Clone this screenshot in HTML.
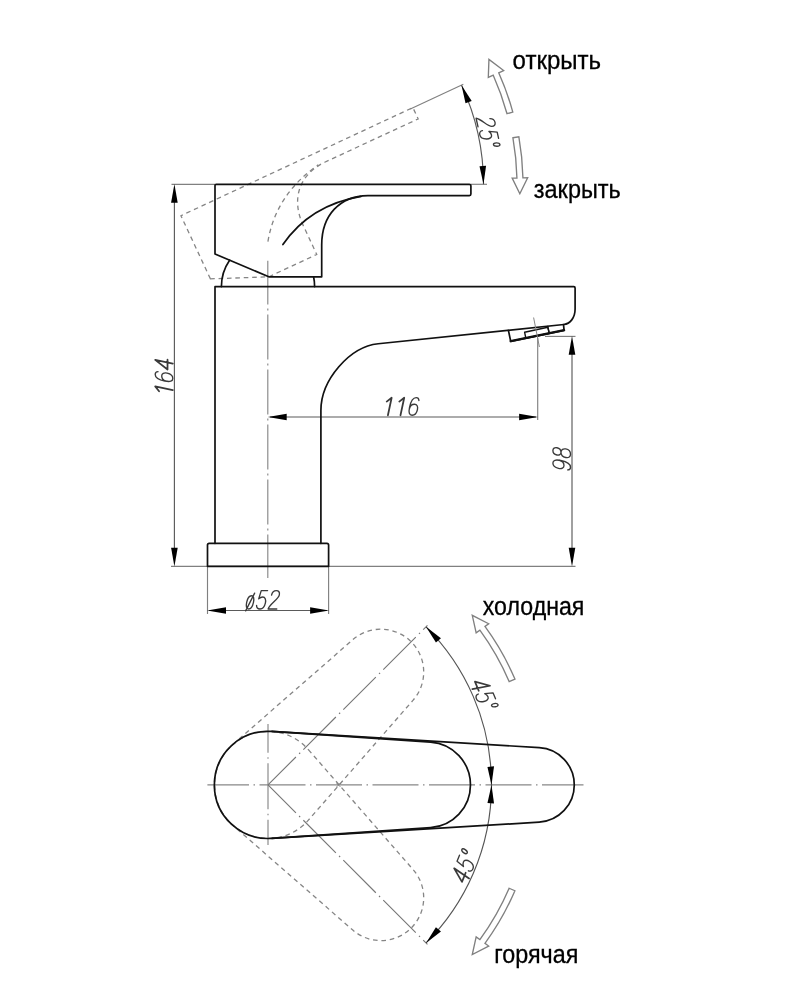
<!DOCTYPE html>
<html lang="ru"><head><meta charset="utf-8"><title>Схема</title>
<style>
html,body{margin:0;padding:0;background:#fff;}
body{width:809px;height:1000px;overflow:hidden;font-family:"Liberation Sans",sans-serif;}
svg{display:block;filter:grayscale(1);}
</style></head><body>
<svg width="809" height="1000" viewBox="0 0 809 1000">
<rect width="809" height="1000" fill="#fff"/>
<g fill="none" stroke="#808080" stroke-width="1.15">
<path d="M267.8,260.8 L267.8,578" stroke-dasharray="45 4 2 4" stroke-dashoffset="1.3" stroke="#888"/>
<path d="M171.5,184.3 L215,184.3"/>
<path d="M174.4,190 L174.4,560" stroke="#5a5a5a"/>
<path d="M171,566.3 L575.5,566.3"/>
<path d="M545,336.4 L575.5,336.4"/>
<path d="M572,342 L572,560" stroke="#5a5a5a"/>
<path d="M537.7,338 L537.7,420"/>
<path d="M270,417 L536,417" stroke="#5a5a5a"/>
<path d="M207.5,566.3 L207.5,614"/>
<path d="M328.6,566.3 L328.6,614"/>
<path d="M209,610.5 L327,610.5" stroke="#5a5a5a"/>
<path d="M470.9,184.3 L487,184.3"/>
<path d="M410.32,109.07 L463.34,84.35"/>
<path d="M461.53,85.2 A234.5,234.5 0 0 1 483.5,184.3" stroke="#5a5a5a"/>
</g>
<g fill="none" stroke="#858585" stroke-width="1.3" stroke-dasharray="4.6 3.8" transform="rotate(-25 268.8 276.8)">
<path d="M215,254 L215,184.3 L470.9,184.3 L470.9,196.8 L367.9,196.6 C340,197 321.7,215 321.7,245 L321.7,276.8 L268.8,276.8 Z"/>
<path d="M282.9,244.5 Q310,205 361,196.3"/>
</g>
<g fill="none" stroke="#111" stroke-width="1.7" stroke-linejoin="round" stroke-linecap="round">
<path d="M221.4,286.6 A46.6,46.6 0 0 1 229.6,260.2"/>
<path d="M313.6,276.8 A46.6,46.6 0 0 1 314.6,286.6"/>
<path d="M215,254 L215,185.5 Q215,184.3 216.2,184.3 L469.4,184.3 Q470.9,184.3 470.9,185.8 L470.9,194.1 Q470.9,195.6 469.4,195.6 L367.9,195.6 C340,196 321.7,215 321.7,245 L321.7,276.8 L268.8,276.8 Z"/>
<path d="M282.9,244.5 Q310,205 361,196.3"/>
<path d="M215,543.3 L215,286.7 L573.8,286.7 Q575.1,286.7 575.1,288 L575.1,309 C575.1,318 570,323.8 563.8,324.5 L378.2,343.75 C349.6,346.7 320.9,379.9 320.9,410.4 L320.9,543.3"/>
<path d="M207.5,566.3 L207.5,545 Q207.5,543.3 209.2,543.3 L326.9,543.3 Q328.6,543.3 328.6,545 L328.6,566.3 Z"/>
</g>
<g fill="none" stroke="#111" stroke-width="1.6" stroke-linejoin="round" stroke-linecap="round">
<path d="M508.4,330.4 L510.7,341.3 L564.1,330.3 L563.5,324.6" stroke-width="1.7"/>
<path d="M510.7,341.2 L564.1,330.2" stroke-width="2.3"/>
<path d="M524.6,332.2 L547.8,327.3 L549.3,333.4 L525.8,338.1 Z" stroke-width="1.4"/>
<path d="M547.7,326.4 L549.3,333.4" stroke-width="1.4"/>
</g>
<path d="M533.6,317.5 L539.4,347" stroke="#888" stroke-width="1" fill="none"/>
<path d="M174.4,183.9 L177.7,202.8 L171.1,202.8 Z" fill="#000"/>
<path d="M174.4,566.6 L171.1,547.7 L177.7,547.7 Z" fill="#000"/>
<path d="M572,335.9 L575.3,354.8 L568.7,354.8 Z" fill="#000"/>
<path d="M572,566.6 L568.7,547.7 L575.3,547.7 Z" fill="#000"/>
<path d="M267.8,417 L286.7,413.7 L286.7,420.3 Z" fill="#000"/>
<path d="M538,417 L519.1,420.3 L519.1,413.7 Z" fill="#000"/>
<path d="M207.1,610.5 L226,607.2 L226,613.8 Z" fill="#000"/>
<path d="M329,610.5 L310.1,613.8 L310.1,607.2 Z" fill="#000"/>
<path d="M461.53,85.2 L471.7,100.91 L465.52,103.22 Z" fill="#000"/>
<path d="M483.5,184.3 L486.08,165.76 L479.5,166.28 Z" fill="#000"/>
<path d="M507.02,113.71 L512.81,112.13 A273.5,273.5 0 0 0 498.72,72.76 L503.65,70.56 L488.94,59.4 L488.31,77.41 L493.24,75.21 A267.5,267.5 0 0 1 507.02,113.71 Z" fill="#fff" stroke="#808080" stroke-width="1.35" stroke-linejoin="miter"/>
<path d="M512.93,137.76 L518.84,136.72 A274,274 0 0 1 522.93,177.89 L527.67,177.78 L519.83,193.76 L512.18,178.14 L516.93,178.03 A268,268 0 0 0 512.93,137.76 Z" fill="#fff" stroke="#808080" stroke-width="1.35" stroke-linejoin="miter"/>
<g transform="translate(172.8,376.9) rotate(-90)">
<path transform="translate(-18.88,0) matrix(15.84,0,3.74,-17.6,0,0)" d="M0.10,0.78 L0.36,1 L0.36,0" fill="none" stroke="#3a3a3a" stroke-width="1.76" vector-effect="non-scaling-stroke" stroke-linecap="round" stroke-linejoin="round"/>
<path transform="translate(-6.29,0) matrix(15.84,0,3.74,-17.6,0,0)" d="M0.53,0.84 C0.50,0.95 0.42,1 0.32,1 C0.12,1 0.03,0.75 0.03,0.45 C0.03,0.15 0.12,0 0.30,0 C0.46,0 0.56,0.13 0.56,0.32 C0.56,0.50 0.46,0.63 0.30,0.63 C0.14,0.63 0.04,0.50 0.04,0.35" fill="none" stroke="#3a3a3a" stroke-width="1.35" vector-effect="non-scaling-stroke" stroke-linecap="round" stroke-linejoin="round"/>
<path transform="translate(6.29,0) matrix(15.84,0,3.74,-17.6,0,0)" d="M0.44,0 L0.44,1 L0.0,0.30 L0.62,0.30" fill="none" stroke="#3a3a3a" stroke-width="1.76" vector-effect="non-scaling-stroke" stroke-linecap="round" stroke-linejoin="round"/>
</g>
<g transform="translate(382.2,415.3) rotate(0)">
<path transform="translate(0,0) matrix(15.84,0,3.74,-17.6,0,0)" d="M0.10,0.78 L0.36,1 L0.36,0" fill="none" stroke="#3a3a3a" stroke-width="1.76" vector-effect="non-scaling-stroke" stroke-linecap="round" stroke-linejoin="round"/>
<path transform="translate(12.58,0) matrix(15.84,0,3.74,-17.6,0,0)" d="M0.10,0.78 L0.36,1 L0.36,0" fill="none" stroke="#3a3a3a" stroke-width="1.76" vector-effect="non-scaling-stroke" stroke-linecap="round" stroke-linejoin="round"/>
<path transform="translate(25.17,0) matrix(15.84,0,3.74,-17.6,0,0)" d="M0.53,0.84 C0.50,0.95 0.42,1 0.32,1 C0.12,1 0.03,0.75 0.03,0.45 C0.03,0.15 0.12,0 0.30,0 C0.46,0 0.56,0.13 0.56,0.32 C0.56,0.50 0.46,0.63 0.30,0.63 C0.14,0.63 0.04,0.50 0.04,0.35" fill="none" stroke="#3a3a3a" stroke-width="1.35" vector-effect="non-scaling-stroke" stroke-linecap="round" stroke-linejoin="round"/>
</g>
<g transform="translate(570.5,459) rotate(-90)">
<path transform="translate(-12.58,0) matrix(15.84,0,3.74,-17.6,0,0)" d="M0.07,0.16 C0.10,0.05 0.18,0 0.28,0 C0.48,0 0.57,0.25 0.57,0.55 C0.57,0.85 0.48,1 0.30,1 C0.14,1 0.04,0.87 0.04,0.68 C0.04,0.50 0.14,0.37 0.30,0.37 C0.46,0.37 0.56,0.50 0.56,0.65" fill="none" stroke="#3a3a3a" stroke-width="1.35" vector-effect="non-scaling-stroke" stroke-linecap="round" stroke-linejoin="round"/>
<path transform="translate(0,0) matrix(15.84,0,3.74,-17.6,0,0)" d="M0.30,0.54 C0.15,0.54 0.07,0.65 0.07,0.77 C0.07,0.90 0.17,1 0.30,1 C0.43,1 0.53,0.90 0.53,0.77 C0.53,0.65 0.45,0.54 0.30,0.54 C0.12,0.54 0.03,0.40 0.03,0.27 C0.03,0.10 0.15,0 0.30,0 C0.45,0 0.57,0.10 0.57,0.27 C0.57,0.40 0.48,0.54 0.30,0.54" fill="none" stroke="#3a3a3a" stroke-width="1.35" vector-effect="non-scaling-stroke" stroke-linecap="round" stroke-linejoin="round"/>
</g>
<g transform="translate(262.4,609) rotate(0)">
<path transform="translate(-17.92,0) matrix(15.46,0,3.91,-18.4,0,0)" d="M0.27,0.0 C0.12,0.0 0.05,0.16 0.05,0.36 C0.05,0.56 0.12,0.72 0.27,0.72 C0.42,0.72 0.49,0.56 0.49,0.36 C0.49,0.16 0.42,0.0 0.27,0.0 M0.10,-0.10 L0.44,0.86" fill="none" stroke="#3a3a3a" stroke-width="1.35" vector-effect="non-scaling-stroke" stroke-linecap="round" stroke-linejoin="round"/>
<path transform="translate(-7.08,0) matrix(15.46,0,3.91,-18.4,0,0)" d="M0.54,1 L0.13,1 L0.08,0.55 C0.15,0.62 0.23,0.65 0.32,0.65 C0.47,0.65 0.57,0.50 0.57,0.33 C0.57,0.13 0.45,0 0.30,0 C0.15,0 0.05,0.08 0.03,0.20" fill="none" stroke="#3a3a3a" stroke-width="1.35" vector-effect="non-scaling-stroke" stroke-linecap="round" stroke-linejoin="round"/>
<path transform="translate(5.42,0) matrix(15.46,0,3.91,-18.4,0,0)" d="M0.05,0.76 C0.05,0.92 0.16,1 0.30,1 C0.45,1 0.55,0.91 0.55,0.77 C0.55,0.52 0.06,0.28 0.02,0 L0.58,0" fill="none" stroke="#3a3a3a" stroke-width="1.35" vector-effect="non-scaling-stroke" stroke-linecap="round" stroke-linejoin="round"/>
</g>
<g transform="translate(479.41,133.22) rotate(77.5)">
<path transform="translate(-15.66,0) matrix(15.84,0,3.74,-17.6,0,0)" d="M0.05,0.76 C0.05,0.92 0.16,1 0.30,1 C0.45,1 0.55,0.91 0.55,0.77 C0.55,0.52 0.06,0.28 0.02,0 L0.58,0" fill="none" stroke="#3a3a3a" stroke-width="1.35" vector-effect="non-scaling-stroke" stroke-linecap="round" stroke-linejoin="round"/>
<path transform="translate(-3.08,0) matrix(15.84,0,3.74,-17.6,0,0)" d="M0.54,1 L0.13,1 L0.08,0.55 C0.15,0.62 0.23,0.65 0.32,0.65 C0.47,0.65 0.57,0.50 0.57,0.33 C0.57,0.13 0.45,0 0.30,0 C0.15,0 0.05,0.08 0.03,0.20" fill="none" stroke="#3a3a3a" stroke-width="1.35" vector-effect="non-scaling-stroke" stroke-linecap="round" stroke-linejoin="round"/>
<path transform="translate(9.5,0) matrix(15.84,0,3.74,-17.6,0,0)" d="M0.14,0.64 C0.07,0.64 0.03,0.72 0.03,0.82 C0.03,0.92 0.07,1.0 0.14,1.0 C0.21,1.0 0.25,0.92 0.25,0.82 C0.25,0.72 0.21,0.64 0.14,0.64" fill="none" stroke="#3a3a3a" stroke-width="1.35" vector-effect="non-scaling-stroke" stroke-linecap="round" stroke-linejoin="round"/>
</g>
<g fill="none" stroke="#808080" stroke-width="1.15">
<path d="M207.4,784.9 L583.5,784.9" stroke-dasharray="46 4.5 1.5 4.5" stroke-dashoffset="4.4" stroke="#888"/>
<path d="M268,724 L268,845" stroke-dasharray="46 4.5 1.5 4.5" stroke-dashoffset="17.2" stroke="#888"/>
<path d="M268,784.9 L427.45,625.45" stroke-dasharray="46 4.5 1.5 4.5" stroke-dashoffset="6.5" stroke="#777"/>
<path d="M268,784.9 L427.45,944.35" stroke-dasharray="46 4.5 1.5 4.5" stroke-dashoffset="6.5" stroke="#777"/>
<path d="M426.04,626.86 A223.5,223.5 0 0 1 426.04,942.94" stroke="#555"/>
</g>
<path d="M271.62,731.42 L430.59,742.2 A42.8,42.8 0 0 1 430.59,827.6 L271.62,838.38 A53.6,53.6 0 1 1 271.62,731.42 Z" fill="none" stroke="#858585" stroke-width="1.3" stroke-dasharray="4.6 3.8" transform="rotate(-45 268 784.9)"/>
<path d="M271.62,731.42 L430.59,742.2 A42.8,42.8 0 0 1 430.59,827.6 L271.62,838.38 A53.6,53.6 0 1 1 271.62,731.42 Z" fill="none" stroke="#858585" stroke-width="1.3" stroke-dasharray="4.6 3.8" transform="rotate(45 268 784.9)"/>
<path d="M336.5,783 L340.5,787 M336.5,787 L340.5,783" stroke="#777" stroke-width="0.8" fill="none"/>
<g fill="none" stroke="#111" stroke-width="1.7" stroke-linejoin="round">
<path d="M271.25,731.4 L539.26,747.67 A37.3,37.3 0 0 1 539.26,822.13 L271.25,838.4 A53.6,53.6 0 1 1 271.25,731.4 Z"/>
<path d="M271.62,731.42 L430.59,742.2 A42.8,42.8 0 0 1 430.59,827.6 L271.62,838.38"/>
</g>
<path d="M426.04,626.86 L440.95,638.18 L435.92,642.45 Z" fill="#000"/>
<path d="M426.04,942.94 L440.95,931.62 L435.92,927.35 Z" fill="#000"/>
<path d="M491.5,784.9 L494.04,766.35 L487.46,766.89 Z" fill="#000"/>
<path d="M491.5,784.9 L494.04,803.45 L487.46,802.91 Z" fill="#000"/>
<path d="M509.14,681.55 L514.93,679.07 A268.65,268.65 0 0 0 484.96,626.46 L488.67,623.75 L472.28,615.31 L476.16,632.89 L479.87,630.18 A262.35,262.35 0 0 1 509.14,681.55 Z" fill="#fff" stroke="#808080" stroke-width="1.35" stroke-linejoin="miter"/>
<path d="M509.14,888.25 L514.93,890.73 A268.65,268.65 0 0 1 484.96,943.34 L488.67,946.05 L472.28,954.49 L476.16,936.91 L479.87,939.62 A262.35,262.35 0 0 0 509.14,888.25 Z" fill="#fff" stroke="#808080" stroke-width="1.35" stroke-linejoin="miter"/>
<g transform="translate(475.73,697.15) rotate(67.1)">
<path transform="translate(-15.66,0) matrix(15.84,0,3.74,-17.6,0,0)" d="M0.44,0 L0.44,1 L0.0,0.30 L0.62,0.30" fill="none" stroke="#3a3a3a" stroke-width="1.76" vector-effect="non-scaling-stroke" stroke-linecap="round" stroke-linejoin="round"/>
<path transform="translate(-3.08,0) matrix(15.84,0,3.74,-17.6,0,0)" d="M0.54,1 L0.13,1 L0.08,0.55 C0.15,0.62 0.23,0.65 0.32,0.65 C0.47,0.65 0.57,0.50 0.57,0.33 C0.57,0.13 0.45,0 0.30,0 C0.15,0 0.05,0.08 0.03,0.20" fill="none" stroke="#3a3a3a" stroke-width="1.35" vector-effect="non-scaling-stroke" stroke-linecap="round" stroke-linejoin="round"/>
<path transform="translate(9.5,0) matrix(15.84,0,3.74,-17.6,0,0)" d="M0.14,0.64 C0.07,0.64 0.03,0.72 0.03,0.82 C0.03,0.92 0.07,1.0 0.14,1.0 C0.21,1.0 0.25,0.92 0.25,0.82 C0.25,0.72 0.21,0.64 0.14,0.64" fill="none" stroke="#3a3a3a" stroke-width="1.35" vector-effect="non-scaling-stroke" stroke-linecap="round" stroke-linejoin="round"/>
</g>
<g transform="translate(472.34,870.38) rotate(-67.9)">
<path transform="translate(-15.66,0) matrix(15.84,0,3.74,-17.6,0,0)" d="M0.44,0 L0.44,1 L0.0,0.30 L0.62,0.30" fill="none" stroke="#3a3a3a" stroke-width="1.76" vector-effect="non-scaling-stroke" stroke-linecap="round" stroke-linejoin="round"/>
<path transform="translate(-3.08,0) matrix(15.84,0,3.74,-17.6,0,0)" d="M0.54,1 L0.13,1 L0.08,0.55 C0.15,0.62 0.23,0.65 0.32,0.65 C0.47,0.65 0.57,0.50 0.57,0.33 C0.57,0.13 0.45,0 0.30,0 C0.15,0 0.05,0.08 0.03,0.20" fill="none" stroke="#3a3a3a" stroke-width="1.35" vector-effect="non-scaling-stroke" stroke-linecap="round" stroke-linejoin="round"/>
<path transform="translate(9.5,0) matrix(15.84,0,3.74,-17.6,0,0)" d="M0.14,0.64 C0.07,0.64 0.03,0.72 0.03,0.82 C0.03,0.92 0.07,1.0 0.14,1.0 C0.21,1.0 0.25,0.92 0.25,0.82 C0.25,0.72 0.21,0.64 0.14,0.64" fill="none" stroke="#3a3a3a" stroke-width="1.35" vector-effect="non-scaling-stroke" stroke-linecap="round" stroke-linejoin="round"/>
</g>
<g font-family="'Liberation Sans', sans-serif" font-size="25.2" fill="#000" stroke="#000" stroke-width="0.3">
<text x="512.6" y="69.3" textLength="88.5" lengthAdjust="spacingAndGlyphs">открыть</text>
<text x="533.8" y="197.8" textLength="87" lengthAdjust="spacingAndGlyphs">закрыть</text>
<text x="482.8" y="614.6" textLength="101.6" lengthAdjust="spacingAndGlyphs">холодная</text>
<text x="494.3" y="962.5" textLength="84" lengthAdjust="spacingAndGlyphs">горячая</text>
</g>
</svg>
</body></html>
